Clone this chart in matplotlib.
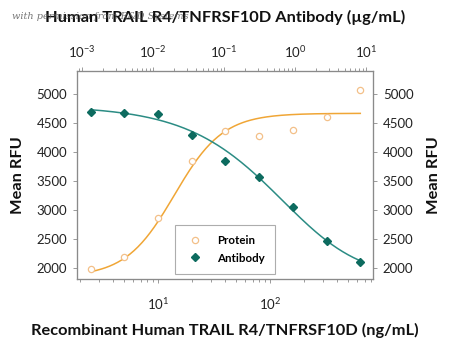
import matplotlib
matplotlib.use("Agg")
import matplotlib.pyplot as plt
import numpy as np
from matplotlib.ticker import LogLocator, FixedLocator

plt.rcParams['font.family'] = ['Lato', 'DejaVu Sans']
plt.rcParams['mathtext.fontset'] = 'custom'
plt.rcParams['mathtext.rm'] = 'Lato'
plt.rcParams['mathtext.default'] = 'regular'

# data (ng/mL on bottom axis, Mean RFU)
conc = [2.5, 5, 10, 20, 40, 80, 160, 320, 640]
protein = [1990, 2190, 2860, 3840, 4365, 4270, 4390, 4600, 5070]
antibody = [4700, 4680, 4655, 4300, 3840, 3565, 3050, 2460, 2100]

# logistic fit parameters (bottom, top, ec50, hill, asymmetry)
# negative hill = rising curve
protein_fit = (1850, 4670, 14.0, -2.0, 1.0)
antibody_fit = (1850, 4800, 270.0, 0.95, 2.0)

yticks = [2000, 2500, 3000, 3500, 4000, 4500, 5000]

ORANGE = '#f0a636'
ORANGE_PT = '#f3c089'
TEAL = '#2b8c84'
TEAL_PT = '#0d6b5f'
SPINE = '#8a8a8a'


def five_pl(x, p):
    bottom, top, ec50, hill, s = p
    return bottom + (top - bottom) / (1 + (x / ec50) ** hill) ** s


fig = plt.figure(figsize=(4.5, 3.48), dpi=100)
ax = fig.add_axes([0.171, 0.198, 0.658, 0.598])

xs = np.logspace(np.log10(conc[0]), np.log10(conc[-1]), 200)
ax.plot(xs, five_pl(xs, protein_fit), color=ORANGE, lw=1.1, zorder=2)
ax.plot(xs, five_pl(xs, antibody_fit), color=TEAL, lw=1.1, zorder=2)
ax.plot(conc, protein, ls='none', marker='o', ms=4.5, mfc='white',
        mec=ORANGE_PT, mew=0.9, label='Protein', zorder=3)
ax.plot(conc, antibody, ls='none', marker='D', ms=4, color=TEAL_PT,
        label='Antibody', zorder=3)

ax.set_xscale('log')
ax.set_xlim(1.89, 832)
ax.set_ylim(1810, 5400)
ax.set_yticks(yticks)
ax.xaxis.set_major_locator(FixedLocator([10, 100]))
ax.xaxis.set_minor_locator(LogLocator(base=10, subs=np.arange(2, 10)))

LABEL = dict(fontsize=11.8, fontweight='bold', color='#111111')
ax.set_xlabel('Recombinant Human TRAIL R4/TNFRSF10D (ng/mL)', labelpad=8, **LABEL)
ax.set_ylabel('Mean RFU', labelpad=8, **LABEL)

axr = ax.twinx()
axr.set_ylim(ax.get_ylim())
axr.set_yticks(yticks)
axr.set_ylabel('Mean RFU', labelpad=10, **LABEL)

axt = ax.twiny()
axt.set_xscale('log')
axt.set_xlim(10 ** -3.07, 10 ** 1.099)
axt.xaxis.set_major_locator(FixedLocator([1e-3, 1e-2, 1e-1, 1, 10]))
axt.xaxis.set_minor_locator(LogLocator(base=10, subs=np.arange(2, 10)))
axt.set_xlabel('Human TRAIL R4/TNFRSF10D Antibody (\u00b5g/mL)', labelpad=16, **LABEL)

for a in (ax, axr, axt):
    for s in a.spines.values():
        s.set_color(SPINE)
        s.set_linewidth(0.8)
    a.tick_params(which='both', direction='out', color=SPINE, width=0.6,
                  labelsize=9.5, labelcolor='#222222')
    a.tick_params(which='major', length=3)
    a.tick_params(which='minor', length=2)
ax.tick_params(axis='x', which='major', pad=9)
axt.tick_params(axis='x', which='major', pad=5)
ax.tick_params(axis='y', pad=4)
axr.tick_params(axis='y', pad=4)

leg = ax.legend(loc='lower center', bbox_to_anchor=(0.5, 0.025), frameon=True,
                fancybox=False, edgecolor='#999999',
                handlelength=1.8, handletextpad=1.0, borderpad=0.9,
                labelspacing=0.55, borderaxespad=0.0,
                prop={'weight': 'bold', 'size': 8.3})
leg.get_frame().set_linewidth(0.8)

fig.text(0.027, 0.945, 'with permission from R&D Systems', fontsize=7,
         family='DejaVu Serif', style='italic', color='#555555', alpha=0.8)

fig.savefig('out.png', dpi=100)
